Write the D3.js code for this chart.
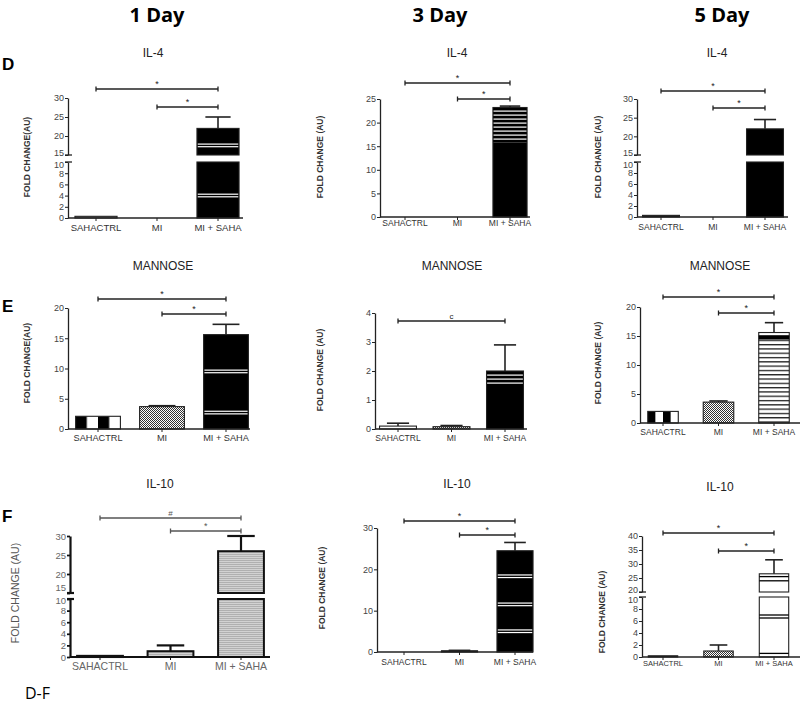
<!DOCTYPE html>
<html><head><meta charset="utf-8">
<script src="https://cdn.jsdelivr.net/npm/d3@7"></script>
<style>body{margin:0;background:#fff}</style>
</head><body>
<svg id="c" width="800" height="704"></svg>
<script>
// ---------- DATA ----------
const dayLabels = ["1 Day", "3 Day", "5 Day"];
const rowLetters = ["D", "E", "F"];
const markers = ["IL-4", "MANNOSE", "IL-10"];
const groups = ["SAHACTRL", "MI", "MI + SAHA"];
const il4Mean = [[0.3, 0, 22], [0, 0, 23.2], [0.3, 0, 22]];
const il4Sem = [[0, 0, 3], [0, 0, 0.3], [0, 0, 2.5]];
const mannoseMean = [[2.1, 3.7, 15.6], [0.1, 0.08, 2.0], [2.0, 3.6, 15.6]];
const mannoseSem = [[0, 0.15, 1.7], [0.1, 0.04, 0.9], [0, 0.2, 1.7]];
const il10Mean = [[0.2, 1.0, 26], [0, 0.3, 24.5], [0.2, 1.0, 26.5]];
const il10Sem = [[0, 1.0, 4], [0, 0.1, 2], [0, 1.0, 5]];
const yTitles = [
  ["FOLD CHANGE(AU)", "FOLD CHANGE (AU)", "FOLD CHANGE (AU)"],
  ["FOLD CHANGE(AU)", "FOLD CHANGE (AU)", "FOLD CHANGE (AU)"],
  ["FOLD CHANGE (AU)", "FOLD CHANGE (AU)", "FOLD CHANGE (AU)"]
];
// significance: [SAHACTRL vs MI+SAHA, MI vs MI+SAHA]
const sigSymbols = [
  [["*", "*"], ["*", "*"], ["*", "*"]],
  [["*", "*"], ["c"], ["*", "*"]],
  [["#", "*"], ["*", "*"], ["*", "*"]]
];
const ticksBrokenLow = [0, 2, 4, 6, 8, 10];
const ticksBrokenHigh30 = [15, 20, 25, 30];
const ticksBrokenHigh40 = [20, 25, 30, 35, 40];
const ticksIl4Day3 = [0, 5, 10, 15, 20, 25];
const ticksMannose = [0, 5, 10, 15, 20];
const ticksMannoseDay3 = [0, 1, 2, 3, 4];
const ticksIl10Day3 = [0, 10, 20, 30];

const means = [il4Mean, mannoseMean, il10Mean];
const sems = [il4Sem, mannoseSem, il10Sem];

// ---------- LAYOUT (pixels / styles) ----------
const layout = [
  [
    {ax:68, xr:243, c0:96, c2:218, p:0.31, low:[218,162], high:[155,98], tL:ticksBrokenLow, tH:ticksBrokenHigh30, lowMax:10, highMin:15, highMax:30,
     title:[153,53], yt:[27,157], lblY:231, lblFs:9.5, sigY:[89,107], fills:["gray","none",{k:"blackBands",v:[17.5,4]}]},
    {ax:380, xr:530, c0:405, c2:510, p:0.35, lin:[217,99], t:ticksIl4Day3, max:25,
     title:[457,53], yt:[320,157], lblY:226, lblFs:8.5, sigY:[83,99], fills:["gray","none",{k:"blackTop",from:15.8}]},
    {ax:637, xr:788, c0:661, c2:765, p:0.29, low:[217,162], high:[155,99], tL:ticksBrokenLow, tH:ticksBrokenHigh30, lowMax:10, highMin:15, highMax:30,
     title:[717,53], yt:[598,157], lblY:230, lblFs:8.5, sigY:[91,108], fills:["black","none","black"]}
  ],
  [
    {ax:68, xr:250, c0:98, c2:226, p:0.3, lin:[429,308], t:ticksMannose, max:20,
     title:[163,266], yt:[27,363], lblY:441, lblFs:9.2, sigY:[299,314], fills:["vstripe","check",{k:"blackBands",v:[9.5,2.7]}]},
    {ax:375, xr:527, c0:398, c2:505, p:0.31, lin:[429,313], t:ticksMannoseDay3, max:4,
     title:[452,266], yt:[320,370], lblY:441, lblFs:8.5, sigY:[321], fills:["white","check",{k:"blackTop",from:1.5}]},
    {ax:640, xr:800, c0:663, c2:774, p:0.45, lin:[423,307], t:ticksMannose, max:20,
     title:[720,266], yt:[598,363], lblY:435, lblFs:8.5, sigY:[297,313], fills:["vstripe","check",{k:"hstripe",band:[14.4,15.1]}]}
  ],
  [
    {ax:70, xr:270, c0:100, c2:241, p:0.35, low:[657,599], high:[593,536], tL:ticksBrokenLow, tH:ticksBrokenHigh30, lowMax:10, highMin:15, highMax:30,
     title:[160,484], yt:[15,593], lblY:670, lblFs:10.5, sigY:[518,531], fills:["black","grayfine","grayfine"], photo:true},
    {ax:377, xr:533, c0:404, c2:515, p:0.35, lin:[652,528], t:ticksIl10Day3, max:30,
     title:[457,484], yt:[322,588], lblY:665, lblFs:8.5, sigY:[521,535], fills:["black","black",{k:"blackBands",v:[18.3,11.5,5]}]},
    {ax:642, xr:800, c0:663, c2:774, p:0.47, low:[657,597], high:[592,536], tL:ticksBrokenLow, tH:ticksBrokenHigh40, lowMax:10, highMin:20, highMax:40,
     title:[720,487], yt:[602,612], lblY:666, lblFs:7.5, sigY:[533,551], fills:["black","check",{k:"whiteLines",v:[25.5,24,7,6.5,0.6]}]}
  ]
];

const svg = d3.select("#c");
const defs = svg.append("defs");
const chk = defs.append("pattern").attr("id","chk").attr("patternUnits","userSpaceOnUse").attr("width",2).attr("height",2);
chk.append("rect").attr("width",2).attr("height",2).attr("fill","#fff");
chk.append("rect").attr("width",1).attr("height",1).attr("fill","#333");
chk.append("rect").attr("x",1).attr("y",1).attr("width",1).attr("height",1).attr("fill","#333");
const vs = defs.append("pattern").attr("id","vs").attr("patternUnits","objectBoundingBox").attr("patternContentUnits","objectBoundingBox").attr("width",0.5).attr("height",1);
vs.append("rect").attr("width",0.5).attr("height",1).attr("fill","#fff");
vs.append("rect").attr("width",0.25).attr("height",1).attr("fill","#000");
const hs = defs.append("pattern").attr("id","hs").attr("patternUnits","userSpaceOnUse").attr("width",4).attr("height",4.3);
hs.append("rect").attr("width",4).attr("height",4.3).attr("fill","#fff");
hs.append("rect").attr("width",4).attr("height",1.3).attr("fill","#222");
const bw = defs.append("pattern").attr("id","bw").attr("patternUnits","userSpaceOnUse").attr("width",4).attr("height",4);
bw.append("rect").attr("width",4).attr("height",4).attr("fill","#000");
bw.append("rect").attr("y",2.5).attr("width",4).attr("height",1.2).attr("fill","#fff");
const gf = defs.append("pattern").attr("id","gf").attr("patternUnits","userSpaceOnUse").attr("width",4).attr("height",2);
gf.append("rect").attr("width",4).attr("height",2).attr("fill","#d2d2d2");
gf.append("rect").attr("width",4).attr("height",0.8).attr("fill","#a8a8a8");

// headers
const dayX = [157, 440, 722];
svg.selectAll("text.day").data(dayLabels).join("text").attr("class","day")
  .attr("x",(d,i)=>dayX[i]).attr("y",22).attr("text-anchor","middle")
  .style("font-family","'Open Sans', 'Liberation Sans', sans-serif").style("font-weight","bold").style("font-size","20px")
  .text(d=>d);
const letterY = [70, 312, 522];
svg.selectAll("text.row").data(rowLetters).join("text").attr("class","row")
  .attr("x",2).attr("y",(d,i)=>letterY[i])
  .style("font-family","'Liberation Sans', Arial, sans-serif").style("font-weight","bold").style("font-size","17px")
  .text(d=>d);
svg.append("text").attr("x",25).attr("y",699)
  .style("font-family","'Open Sans', 'Liberation Sans', sans-serif").style("font-size","16px").text("D-F");

function drawPanel(r, c) {
  const L = layout[r][c];
  const m = means[r][c], s = sems[r][c];
  const g = svg.append("g");
  const photo = !!L.photo;
  const tickFont = "'Liberation Sans', Arial, sans-serif";
  const fs = photo ? "9.5px" : "9px";
  const ink = photo ? "#111" : "#222";
  const sw = photo ? 2.2 : 1.3;

  const step = (L.c2 - L.c0) / 2;
  const x = d3.scaleBand().domain(groups).range([L.c0 - step/2, L.c2 + step/2]).paddingInner(L.p).paddingOuter(L.p/2);

  let yMap;
  const broken = !!L.low;
  let yLow, yHigh, yLin;
  if (broken) {
    yLow = d3.scaleLinear().domain([0, L.lowMax]).range(L.low);
    yHigh = d3.scaleLinear().domain([L.highMin, L.highMax]).range(L.high);
    yMap = v => v <= L.lowMax ? yLow(v) : yHigh(Math.max(v, L.highMin));
  } else {
    yLin = d3.scaleLinear().domain([0, L.max]).range(L.lin);
    yMap = v => yLin(v);
  }
  const y0 = broken ? yLow(0) : yLin(0);

  g.append("text").attr("x", L.title[0]).attr("y", L.title[1]).attr("text-anchor","middle").attr("dominant-baseline","central")
    .style("font-family","'Liberation Sans', Arial, sans-serif").style("font-size","12px").style("fill","#222").text(markers[r]);
  g.append("text").attr("transform",`translate(${L.yt[0]},${L.yt[1]}) rotate(-90)`).attr("text-anchor","middle").attr("dominant-baseline","central")
    .style("font-family", "'Liberation Sans', Arial, sans-serif")
    .style("font-weight", photo ? "normal" : "bold").style("font-size", photo ? "10.5px" : "8.5px").style("fill", photo ? "#555" : "#333")
    .text(yTitles[r][c]);

  // bars
  m.forEach((v, i) => {
    const key = groups[i];
    const bx = x(key), bwid = x.bandwidth();
    const f = L.fills[i];
    const kind = typeof f === "string" ? f : f.k;
    if (kind === "none" || v <= 0) return;
    const segs = [];
    if (broken && v > L.lowMax) {
      segs.push([yLow(L.lowMax), y0]);
      segs.push([yHigh(v), yHigh(L.highMin)]);
    } else segs.push([yMap(v), y0]);
    segs.forEach(([t, b]) => {
      let fill = "#000";
      if (kind === "gray") fill = "#999";
      if (kind === "white") fill = "#fff";
      if (kind === "check") fill = "url(#chk)";
      if (kind === "vstripe") fill = "url(#vs)";
      if (kind === "hstripe") fill = "url(#hs)";
      if (kind === "grayfine") fill = "url(#gf)";
      if (kind === "whiteLines") fill = "#fff";
      g.append("rect").attr("x", bx).attr("y", t).attr("width", bwid).attr("height", Math.max(b - t, 1.2))
        .attr("fill", fill).attr("stroke", ink).attr("stroke-width", photo ? 2 : 1.1);
    });
    if (kind === "blackBands") {
      f.v.forEach(val => {
        const yy = yMap(val);
        g.append("rect").attr("x", bx + 0.8).attr("y", yy - 2).attr("width", bwid - 1.6).attr("height", 1.2).attr("fill", "#fff");
        g.append("rect").attr("x", bx + 0.8).attr("y", yy + 0.6).attr("width", bwid - 1.6).attr("height", 1.2).attr("fill", "#fff");
      });
    }
    if (kind === "blackTop") {
      const t = yMap(v), b = yMap(f.from);
      g.append("rect").attr("x", bx + 0.6).attr("y", t + 1).attr("width", bwid - 1.2).attr("height", b - t - 1).attr("fill", "url(#bw)");
    }
    if (kind === "hstripe") {
      const t = yMap(f.band[1]), b = yMap(f.band[0]);
      g.append("rect").attr("x", bx).attr("y", t).attr("width", bwid).attr("height", b - t).attr("fill", "#000");
    }
    if (kind === "whiteLines") {
      f.v.forEach(val => {
        g.append("line").attr("x1", bx).attr("x2", bx + bwid).attr("y1", yMap(val)).attr("y2", yMap(val))
          .attr("stroke", "#000").attr("stroke-width", 1.3);
      });
    }
  });

  // error bars
  m.forEach((v, i) => {
    if (!s[i]) return;
    const cx = x(groups[i]) + x.bandwidth() / 2;
    const yt = yMap(v + s[i]), yb = yMap(v);
    const cap = x.bandwidth() * 0.3;
    g.append("line").attr("x1", cx).attr("x2", cx).attr("y1", yt).attr("y2", yb).attr("stroke", ink).attr("stroke-width", photo ? 2.2 : 1.6);
    g.append("line").attr("x1", cx - cap).attr("x2", cx + cap).attr("y1", yt).attr("y2", yt).attr("stroke", ink).attr("stroke-width", photo ? 2.2 : 1.6);
  });

  // y axes
  const styleAxis = sel => {
    sel.selectAll("path.domain").attr("stroke", ink).attr("stroke-width", sw);
    sel.selectAll(".tick line").attr("stroke", ink).attr("stroke-width", sw * 0.8);
    sel.selectAll(".tick text").style("font-family", tickFont).style("font-size", fs).style("fill", photo ? "#666" : "#444");
  };
  const fmt = d3.format("~g");
  if (broken) {
    const gl = g.append("g").attr("transform", `translate(${L.ax},0)`)
      .call(d3.axisLeft(yLow).tickValues(L.tL).tickFormat(fmt).tickSize(3).tickSizeOuter(0).tickPadding(1)).call(styleAxis);
    gl.selectAll(".tick text").filter(d => d === L.lowMax).attr("dy", photo ? "0.5em" : "0.6em");
    const gh = g.append("g").attr("transform", `translate(${L.ax},0)`)
      .call(d3.axisLeft(yHigh).tickValues(L.tH).tickFormat(fmt).tickSize(3).tickSizeOuter(0).tickPadding(1)).call(styleAxis);
    gh.selectAll(".tick text").filter(d => d === L.highMin).attr("dy", photo ? "-0.3em" : "0em");
    [yLow(L.lowMax), yHigh(L.highMin)].forEach(yy => {
      g.append("line").attr("x1", L.ax - 3).attr("x2", L.ax + 4).attr("y1", yy).attr("y2", yy).attr("stroke", ink).attr("stroke-width", sw);
    });
  } else {
    g.append("g").attr("transform", `translate(${L.ax},0)`)
      .call(d3.axisLeft(yLin).tickValues(L.t).tickFormat(fmt).tickSize(3).tickSizeOuter(0).tickPadding(1)).call(styleAxis);
  }
  // x axis
  g.append("line").attr("x1", L.ax).attr("x2", L.xr).attr("y1", y0).attr("y2", y0).attr("stroke", ink).attr("stroke-width", sw);
  const xa = g.append("g").attr("transform", `translate(0,${y0})`)
    .call(d3.axisBottom(x).tickSize(3).tickSizeOuter(0));
  xa.select("path.domain").remove();
  xa.selectAll(".tick line").attr("stroke", ink).attr("stroke-width", 1);
  xa.selectAll(".tick text").attr("y", L.lblY - y0).attr("dy", 0)
    .style("font-family", tickFont).style("font-size", L.lblFs + "px").style("fill", photo ? "#666" : "#333");

  // significance bars
  const pairs = [[groups[0], groups[2]], [groups[1], groups[2]]];
  sigSymbols[r][c].forEach((sym, k) => {
    const [a, b] = pairs[k];
    const x1 = x(a) + x.bandwidth() / 2, x2 = x(b) + x.bandwidth() / 2;
    const yy = L.sigY[k];
    const col = photo ? "#555" : "#222";
    g.append("line").attr("x1", x1).attr("x2", x2).attr("y1", yy).attr("y2", yy).attr("stroke", col).attr("stroke-width", 1.3);
    [x1, x2].forEach(xx => g.append("line").attr("x1", xx).attr("x2", xx).attr("y1", yy - 2.5).attr("y2", yy + 2.5).attr("stroke", col).attr("stroke-width", 1.3));
    g.append("text").attr("x", (x1 + x2) / 2).attr("y", yy - 2).attr("text-anchor", "middle")
      .style("font-family", "'Liberation Sans', Arial, sans-serif").style("font-size", sym === "*" ? "9px" : "8px").style("fill", col).text(sym);
  });
}

for (let r = 0; r < 3; r++) for (let c = 0; c < 3; c++) drawPanel(r, c);
</script>
</body></html>
